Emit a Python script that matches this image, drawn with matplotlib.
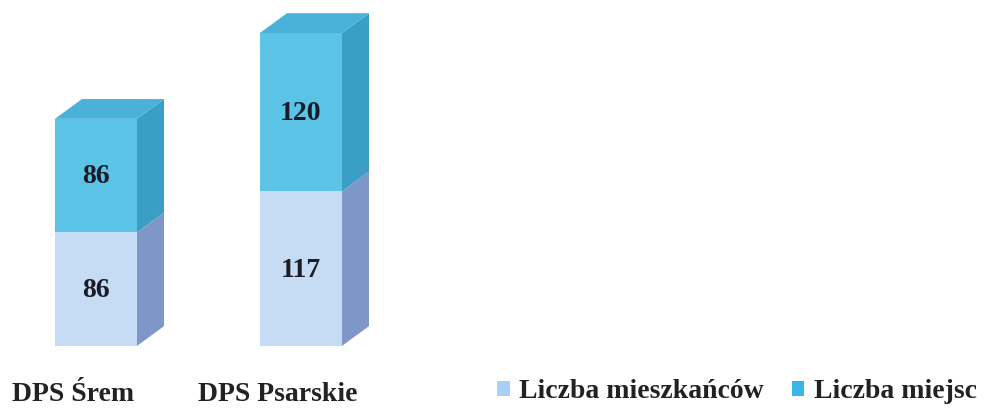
import matplotlib
matplotlib.use("Agg")
import matplotlib.pyplot as plt
from matplotlib.patches import Polygon, Patch

plt.rcParams['font.family'] = ['Liberation Serif', 'DejaVu Serif']

categories = ['DPS Śrem', 'DPS Psarskie']
residents = [86, 117]      # Liczba mieszkańców
places = [86, 120]         # Liczba miejsc
series_names = ['Liczba mieszkańców', 'Liczba miejsc']

# colours: front, side, top
low_front, low_side = '#c6dcf4', '#7f96c8'
up_front, up_side, up_top = '#5ac3e6', '#3b9fc5', '#4ab2d8'
legend_colors = ['#a9cff4', '#38b6ea']

bar_w = 0.4
dx, dy = 0.132, 15.0   # 3D depth offset

fig = plt.figure(figsize=(9.93, 4.08), dpi=100)
ax = fig.add_axes([0, 0, 1, 1])
ax.set_xlim(-0.468, 4.376)
ax.set_ylim(-47, 262)
ax.axis('off')

def box(ax, c, y0, y1, front, side, top=None):
    xl, xr = c - bar_w / 2, c + bar_w / 2
    ax.bar(c, y1 - y0, bottom=y0, width=bar_w, color=front, linewidth=0, zorder=2)
    ax.add_patch(Polygon([(xr, y0), (xr + dx, y0 + dy), (xr + dx, y1 + dy), (xr, y1)],
                         closed=True, facecolor=side, edgecolor='none', zorder=1))
    if top is not None:
        ax.add_patch(Polygon([(xl, y1), (xl + dx, y1 + dy), (xr + dx, y1 + dy), (xr, y1)],
                             closed=True, facecolor=top, edgecolor='none', zorder=1))

for i, cat in enumerate(categories):
    r, p = residents[i], places[i]
    box(ax, i, 0, r, low_front, low_side)
    box(ax, i, r, r + p, up_front, up_side, up_top)
    ax.text(i, r / 2 - 1, str(r), ha='center', va='center', fontsize=20,
            fontweight='bold', color='#1c1c28', zorder=3)
    ax.text(i, r + p / 2 - 1, str(p), ha='center', va='center', fontsize=20,
            fontweight='bold', color='#1c1c28', zorder=3)
    ax.text(i - 0.112, -41.5, cat, ha='center', va='baseline', fontsize=20,
            fontweight='bold', color='#222222')

handles = [Patch(facecolor=c, edgecolor='none') for c in legend_colors]
ax.legend(handles, series_names, loc='lower left', ncol=2, frameon=False,
          bbox_to_anchor=(497 / 993, 4 / 408), bbox_transform=fig.transFigure,
          borderaxespad=0, borderpad=0, handlelength=0.45, handleheight=0.45,
          handletextpad=0.35, columnspacing=1.0,
          prop={'size': 20, 'weight': 'bold'}, labelcolor='#222222')

fig.savefig('out.png', dpi=100, facecolor='white')
